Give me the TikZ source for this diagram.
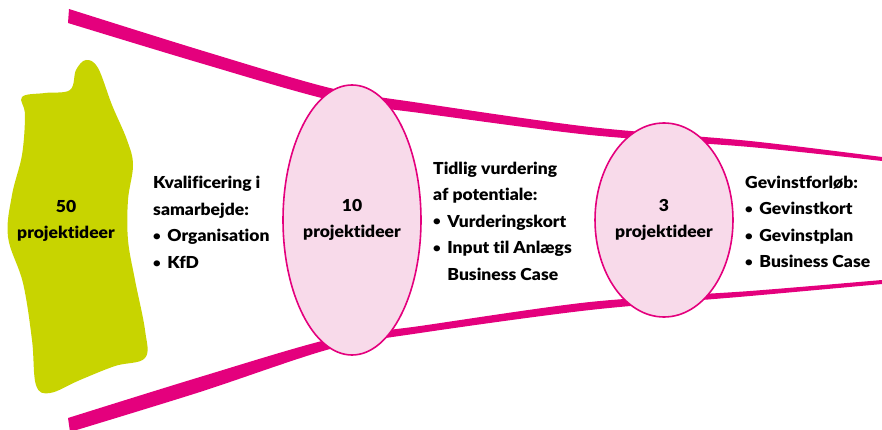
\documentclass[tikz,border=0pt]{standalone}
\usepackage{graphicx}
\usepackage{fontspec}
\setmainfont{Lato}[BoldFont={Lato Black}, Ligatures=NoCommon, FakeStretch=1.06]
\usetikzlibrary{shapes.geometric}
\definecolor{funnelpink}{HTML}{E4007D}
\definecolor{ellipsepink}{HTML}{F8DAEA}
\definecolor{blobgreen}{HTML}{C8D400}

\begin{document}
\begin{tikzpicture}[x=1pt,y=-1pt,
  idea/.style={draw=funnelpink, line width=1.6pt, fill=ellipsepink, ellipse, inner sep=0pt,
    minimum width=132pt, align=center, font=\fsize\bfseries},
  stagetext/.style={align=left, anchor=west, inner sep=0pt, font=\fsize\bfseries},
  band/.style={fill=funnelpink, draw=none}]
\def\fsize{\fontsize{16.5}{26.5}\selectfont}
\def\bul{\raisebox{0.15ex}{\scalebox{0.75}{\textbullet}}\hspace{0.4em}}
\useasboundingbox (0,0) rectangle (882,430);

% funnel edges, thick at the left and thin at the right
\fill[band] plot[smooth] coordinates {(69,9) (200,50) (330,88) (420,103) (590,127) (750,141) (882,157)}
  -- plot[smooth] coordinates {(882,161) (750,147) (590,135) (420,113) (330,100) (200,63) (68,23)} -- cycle;
\fill[band] plot[smooth] coordinates {(68,418) (200,377) (330,339) (420,326) (590,302) (750,291) (882,280)}
  -- plot[smooth] coordinates {(882,284) (750,296) (590,310) (420,333) (330,349) (200,392) (70,432)} -- cycle;

% the 50 ideas
\fill[blobgreen] plot[smooth cycle, tension=0.6] coordinates {(22,97) (45,93) (70,90) (76,70) (86,60) (98,68)
  (112,105) (127,140) (133,165) (128,200) (128,240) (135,280) (145,330) (145,358) (115,366)
  (80,380) (50,393) (36,385) (32,340) (23,283) (8,237) (12,195) (22,155) (25,115)};
\node[align=center, inner sep=0pt, font=\fsize\bfseries, name=fifty] at (66,221) {50\\projektideer};

\node[idea, minimum height=270pt, name=ten] at (352,220) {10\\projektideer};
\node[idea, minimum height=194pt, name=three] at (664,220) {3\\projektideer};

\node[stagetext, name=qualify] at (153,222.5) {Kvalificering i\\samarbejde:\\\bul Organisation\\\bul KfD};
\node[stagetext, name=assess] at (433,221) {Tidlig vurdering\\af potentiale:\\\bul Vurderingskort\\
  \bul Input til Anlægs\\\phantom{\bul}Business Case};
\node[stagetext, name=benefit] at (745,222) {Gevinstforløb:\\\bul Gevinstkort\\\bul Gevinstplan\\\bul Business Case};
\end{tikzpicture}
\end{document}
